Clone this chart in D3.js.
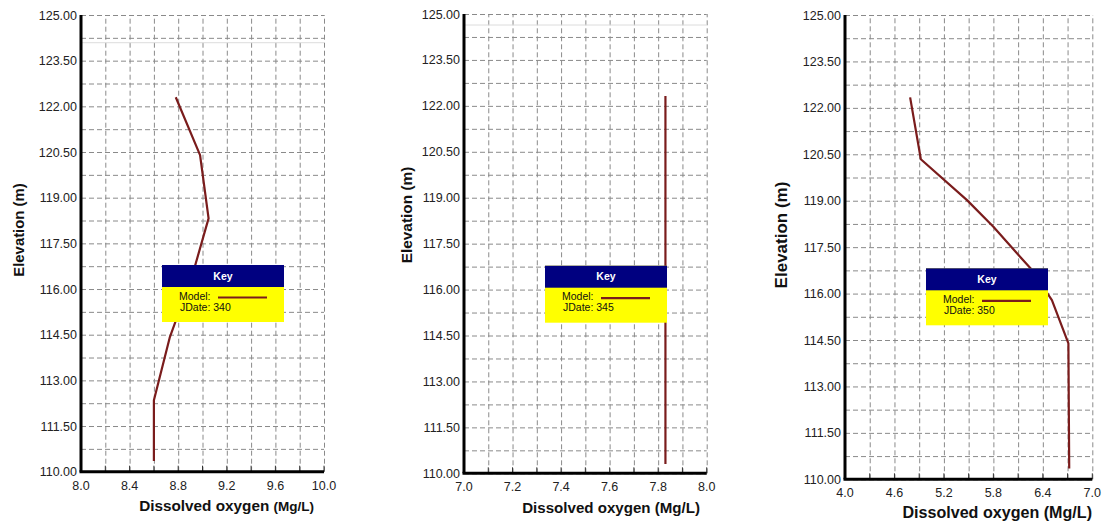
<!DOCTYPE html>
<html>
<head>
<meta charset="utf-8">
<script src="https://cdnjs.cloudflare.com/ajax/libs/d3/7.8.5/d3.min.js"></script>
<style>
  html, body { margin: 0; padding: 0; background: #fff; }
  svg { display: block; font-family: "Liberation Sans", Arial, sans-serif; }
  .grid line { stroke: #8a8a8a; stroke-width: 1; stroke-dasharray: 5,3; }
  .grid .domain { stroke: none; }
  .tick-label { font-size: 12.5px; fill: #222; }
  .axis-title { font-weight: bold; fill: #111; }
  .key-title { font-size: 10.5px; font-weight: bold; fill: #fff; }
  .key-text { font-size: 10.5px; fill: #111; }
</style>
</head>
<body>
<svg id="chart" width="1102" height="524"></svg>
<script>
// values
const jdates = [340, 345, 350];

const elev340 = [122.3, 120.4, 118.32, 116.5, 114.4, 112.35, 110.35];
const do340   = [8.78, 8.98, 9.05, 8.92, 8.73, 8.60, 8.60];

const elev345 = [122.32, 110.3];
const do345   = [7.83, 7.83];

const elev350 = [122.34, 120.34, 119.02, 118.16, 117.14, 116.82, 115.79, 114.39, 110.35];
const do350   = [4.79, 4.92, 5.48, 5.80, 6.14, 6.25, 6.51, 6.71, 6.72];

const xDomains = [[8, 10], [7, 8], [4, 7]];
const yDomain = [110, 125];
const xTickLabels = [
  ["8.0", "8.4", "8.8", "9.2", "9.6", "10.0"],
  ["7.0", "7.2", "7.4", "7.6", "7.8", "8.0"],
  ["4.0", "4.6", "5.2", "5.8", "6.4", "7.0"]
];
const yTickLabels = ["110.00", "111.50", "113.00", "114.50", "116.00", "117.50", "119.00", "120.50", "122.00", "123.50", "125.00"];
const surfaceLevels = [124.09, 124.64, null]; // faint grey line near top

// layout (pixels) for each panel
const panels = [
  { left: 81,  right: 324,    top: 15, bottom: 471.7, keyTop: 265,
    titleX: 314, titleY: 510.5, titleSize: 15.3, unitSize: 13.5, yTitleX: 23.5, yTitleY: 230, yTitleSize: 14.9 },
  { left: 464, right: 706.7,  top: 14, bottom: 473.3, keyTop: 265.7,
    titleX: 700, titleY: 513, titleSize: 15.1, unitSize: 15.1, yTitleX: 411.5, yTitleY: 215, yTitleSize: 15.4 },
  { left: 845, right: 1092.3, top: 15, bottom: 479.3, keyTop: 268.3,
    titleX: 1092, titleY: 518, titleSize: 16.1, unitSize: 16.1, yTitleX: 787, yTitleY: 235, yTitleSize: 17 }
];
const seriesData = [
  { elev: elev340, val: do340 },
  { elev: elev345, val: do345 },
  { elev: elev350, val: do350 }
];

const lineColor = "#7a1c1c";
const svg = d3.select("#chart");

panels.forEach((p, i) => {
  const w = p.right - p.left;
  const h = p.bottom - p.top;
  const xd = xDomains[i];
  const x = d3.scaleLinear().domain(xd).range([0, w]);
  const y = d3.scaleLinear().domain(yDomain).range([h, 0]);
  const g = svg.append("g").attr("transform", `translate(${p.left},${p.top})`);

  const xStep = (xd[1] - xd[0]) / 10;
  const xGrid = d3.range(11).map(k => xd[0] + k * xStep);
  const yGrid = d3.range(21).map(k => yDomain[0] + k * 0.75);
  const yLab = d3.range(11).map(k => yDomain[0] + k * 1.5);
  const xLab = d3.range(6).map(k => xd[0] + k * 2 * xStep);

  // dashed grid
  g.append("g").attr("class", "grid")
    .call(d3.axisLeft(y).tickValues(yGrid).tickSize(-w).tickFormat(""));
  g.append("g").attr("class", "grid")
    .attr("transform", `translate(0,${h})`)
    .call(d3.axisBottom(x).tickValues(xGrid).tickSize(h).tickFormat(""))
    .selectAll("line").attr("y2", -h);

  // faint surface line
  if (surfaceLevels[i] != null) {
    g.append("line")
      .attr("x1", 0).attr("x2", w)
      .attr("y1", y(surfaceLevels[i])).attr("y2", y(surfaceLevels[i]))
      .attr("stroke", "#dcdcdc").attr("stroke-width", 1);
  }

  // small solid ticks on bottom axis
  g.selectAll(".xt").data(xGrid).enter().append("line")
    .attr("x1", d => x(d)).attr("x2", d => x(d))
    .attr("y1", h).attr("y2", h - 6)
    .attr("stroke", "#333").attr("stroke-width", 1);

  // tick labels
  g.selectAll(".ylab").data(yLab).enter().append("text")
    .attr("class", "tick-label")
    .attr("x", -4).attr("y", d => y(d) + 4.5)
    .attr("text-anchor", "end")
    .text((d, k) => yTickLabels[k]);
  g.selectAll(".xlab").data(xLab).enter().append("text")
    .attr("class", "tick-label")
    .attr("x", d => x(d)).attr("y", h + 18)
    .attr("text-anchor", "middle")
    .text((d, k) => xTickLabels[i][k]);

  // profile line
  const s = seriesData[i];
  const pts = s.elev.map((e, k) => [s.val[k], e]);
  g.append("path").datum(pts)
    .attr("fill", "none")
    .attr("stroke", lineColor)
    .attr("stroke-width", 2.2)
    .attr("stroke-linejoin", "round")
    .attr("d", d3.line().x(d => x(d[0])).y(d => y(d[1])));

  // axes (thick black)
  g.append("line").attr("x1", 0).attr("x2", 0).attr("y1", 0).attr("y2", h)
    .attr("stroke", "#000").attr("stroke-width", 3);
  g.append("line").attr("x1", -1.5).attr("x2", w).attr("y1", h).attr("y2", h)
    .attr("stroke", "#000").attr("stroke-width", 3);

  // key box
  const kx = 81, kw = 122, ky = p.keyTop - p.top;
  const key = g.append("g").attr("transform", `translate(${kx},${ky})`);
  key.append("rect").attr("width", kw).attr("height", 57).attr("fill", "#ffff00");
  key.append("rect").attr("width", kw).attr("height", 22).attr("fill", "#000080");
  key.append("text").attr("class", "key-title")
    .attr("x", kw / 2).attr("y", 14.5).attr("text-anchor", "middle").text("Key");
  key.append("text").attr("class", "key-text").attr("x", 17).attr("y", 34.5).text("Model:");
  key.append("text").attr("class", "key-text").attr("x", 18).attr("y", 45.5).text("JDate: " + jdates[i]);
  key.append("line").attr("x1", 56).attr("x2", 105).attr("y1", 32.5).attr("y2", 32.5)
    .attr("stroke", lineColor).attr("stroke-width", 2.2);

  // axis titles
  svg.append("text").attr("class", "axis-title")
    .style("font-size", p.yTitleSize + "px")
    .attr("transform", `translate(${p.yTitleX},${p.yTitleY}) rotate(-90)`)
    .attr("text-anchor", "middle").text("Elevation (m)");
  const t = svg.append("text").attr("class", "axis-title")
    .style("font-size", p.titleSize + "px")
    .attr("x", p.titleX).attr("y", p.titleY).attr("text-anchor", "end");
  t.append("tspan").text("Dissolved oxygen ");
  t.append("tspan").style("font-size", p.unitSize + "px").text("(Mg/L)");
});
</script>
</body>
</html>
